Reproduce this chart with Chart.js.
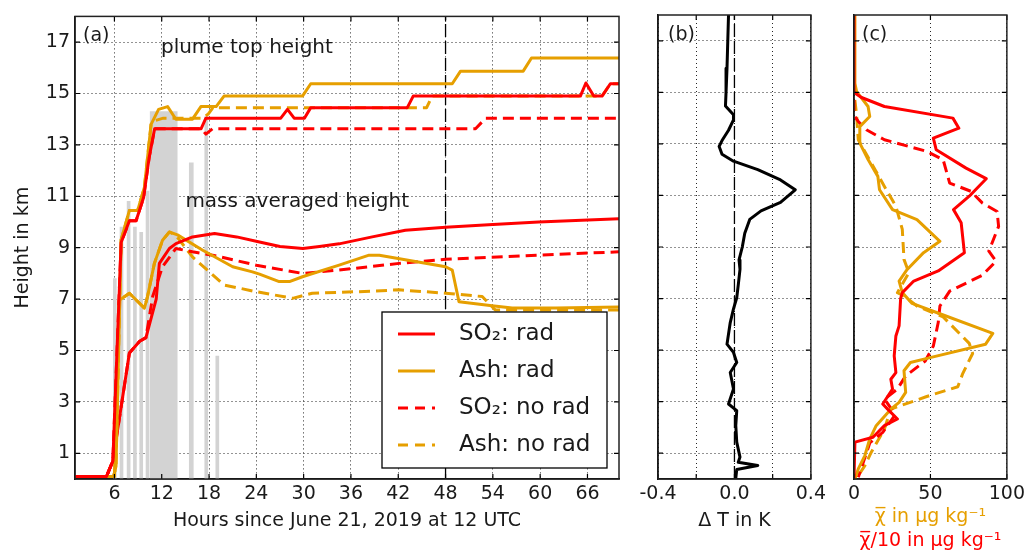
<!DOCTYPE html>
<html><head><meta charset="utf-8">
<script src="https://cdn.jsdelivr.net/npm/chart.js@4.4.1/dist/chart.umd.min.js"></script>
<style>
html,body{margin:0;padding:0;background:#fff;}
#wrap{position:relative;width:1029px;height:552px;overflow:hidden;background:#fff;}
canvas{position:absolute;top:0;}
</style></head><body>
<div id="wrap">
<canvas id="ca" width="630" height="552" style="left:0px"></canvas>
<canvas id="cb" width="200" height="552" style="left:630px"></canvas>
<canvas id="cc" width="199" height="552" style="left:830px"></canvas>
</div>
<script>
// ---------- tick values / labels ----------
const hourTicks = [6,12,18,24,30,36,42,48,54,60,66];
const heightTicks = [1,3,5,7,9,11,13,15,17];
const dTTicks = [-0.4,-0.2,0,0.2,0.4];
const dTTickLabels = ['-0.4','','0.0','','0.4'];
const mixTicks = [0,50,100];
const mixTickLabels = ['0','50','100'];
const hourRange = [1,70];
const heightRange = [0,18];
const refHour = [48];
const refDT = [0];
const legendLabels = ['SO\u2082: rad','Ash: rad','SO\u2082: no rad','Ash: no rad'];

// ---------- panel (a): [hour, km] ----------
const so2RadTop = [[1,0.1],[5.0,0.1],[5.8,0.7],[6.85,9.2],[7.9,10.05],[8.75,10.05],[9.7,10.95],[10.4,12.5],[11.1,13.63],[17.0,13.63],[17.6,14.04],[27.1,14.04],[27.95,14.38],[28.8,14.04],[30.1,14.04],[30.9,14.45],[43.15,14.45],[43.9,14.9],[65.1,14.9],[65.8,15.41],[66.8,14.9],[67.85,14.9],[68.9,15.38],[70,15.38]];
const so2NoRadTop = [[1,0.1],[5.0,0.1],[5.8,0.7],[6.85,9.2],[7.9,10.05],[8.75,10.05],[9.7,10.95],[10.4,12.5],[11.1,13.63],[17.0,13.63],[17.6,13.42],[18.45,13.63],[51.8,13.63],[53.1,14.04],[70,14.04]];
const ashRadTop = [[1,0.1],[5.9,0.1],[6.2,0.5],[6.85,9.3],[7.9,10.45],[8.95,10.45],[9.8,11.35],[10.65,13.8],[11.6,14.38],[12.75,14.49],[13.8,14.0],[15.9,14.0],[16.97,14.49],[18.9,14.49],[19.9,14.9],[29.85,14.9],[30.9,15.38],[48.85,15.38],[49.9,15.87],[57.85,15.87],[58.9,16.38],[70,16.38]];
const ashNoRadTop = [[1,0.1],[5.9,0.1],[6.2,0.5],[6.85,9.3],[7.9,10.45],[8.95,10.45],[9.8,11.35],[10.65,13.8],[11.2,13.95],[12.2,14.04],[17.2,14.04],[17.9,14.2],[18.5,14.45],[45.6,14.45],[46.3,14.9],[67.85,14.9],[68.9,15.38],[70,15.38]];
const so2RadMass = [[1,0.1],[5.0,0.1],[5.8,0.7],[7.9,4.9],[9.2,5.36],[10.0,5.5],[11.3,7.0],[11.7,8.39],[12.97,8.97],[13.8,9.16],[15.9,9.42],[18.7,9.55],[21.5,9.42],[24.4,9.22],[27,9.05],[29.9,8.97],[32,9.05],[34.5,9.15],[38.7,9.42],[42.9,9.68],[48,9.8],[54,9.9],[59.8,10.0],[70,10.13]];
const so2NoRadMass = [[1,0.1],[5.0,0.1],[5.8,0.7],[7.9,4.9],[9.2,5.36],[10.0,5.5],[10.85,7.1],[12.1,8.26],[13.8,8.97],[15.9,8.84],[18.45,8.71],[24,8.32],[29.85,8.0],[34.5,8.13],[42.1,8.39],[48,8.55],[59.8,8.71],[70,8.84]];
const ashRadMass = [[1,0.1],[6.0,0.1],[6.6,6.95],[7.9,7.23],[9.8,6.65],[10.2,7.1],[11.07,8.39],[12.1,9.29],[12.97,9.61],[14.0,9.5],[17.2,8.9],[21.0,8.26],[23.5,8.06],[24.4,7.97],[26.9,7.68],[28.2,7.68],[29.85,7.87],[34.5,8.32],[38.3,8.71],[39.6,8.71],[48.0,8.26],[48.85,8.13],[49.7,6.9],[53.9,6.74],[56.45,6.65],[62,6.65],[70,6.69]];
const ashNoRadMass = [[1,0.1],[6.0,0.1],[6.6,6.95],[7.9,7.23],[9.8,6.65],[10.2,7.1],[11.07,8.39],[12.1,9.29],[12.97,9.61],[13.8,9.48],[15.9,8.64],[17.8,8.13],[19.9,7.55],[23.95,7.29],[28.6,7.03],[31.1,7.23],[37,7.29],[42.1,7.36],[48,7.23],[52.65,7.1],[54.3,6.58],[70,6.58]];
// observed heights (gray bars): [hour, km]
const obsThin = [[6.05,7.8],[6.9,9.8],[7.8,10.8],[8.6,9.8],[9.4,9.6],[10.2,11.2],[17.65,14.1],[19.05,4.78]];
const obsMid = [[15.75,12.3]];
const obsWide = [[12.25,14.3]];

// ---------- panel (b): [dT K, km] ----------
const dTProfile = [[-0.031,18.0],[-0.039,15.93],[-0.044,15.0],[-0.047,14.47],[-0.005,14.13],[-0.005,13.93],[-0.031,13.53],[-0.065,13.13],[-0.08,12.9],[-0.065,12.6],[-0.005,12.33],[0.122,12.0],[0.241,11.6],[0.318,11.22],[0.241,10.73],[0.139,10.4],[0.08,10.07],[0.054,9.53],[0.041,9.0],[0.024,8.5],[0.029,8.13],[0.02,7.53],[0.012,7.03],[-0.005,6.6],[-0.022,6.07],[-0.039,5.23],[-0.005,4.91],[0.012,4.52],[-0.022,4.13],[-0.005,3.49],[-0.031,2.91],[0.012,2.65],[0.007,2.07],[0.012,1.43],[0.029,0.85],[0.02,0.65],[0.122,0.52],[0.012,0.37],[0.007,0.03]];

// ---------- panel (c): [mixing ratio, km] ----------
const so2RadMix = [[0,18],[0,15.0],[4.9,14.8],[19.9,14.45],[64.7,14.0],[68.6,13.61],[51.9,13.22],[53.8,12.77],[73.3,12.06],[86.5,11.65],[75.4,10.97],[65.1,10.45],[70.1,9.94],[72.2,8.78],[55.1,8.07],[39.1,7.68],[31.6,7.23],[30.5,7.0],[29.5,5.94],[27.4,5.55],[26.3,4.78],[27.4,4.13],[24.1,3.87],[25.2,3.49],[18.8,2.91],[22.0,2.71],[28.4,2.33],[19.9,2.07],[12.4,1.62],[0.6,1.43],[0,1.3],[0,0]];
const so2NoRadMix = [[0,18],[0,14.2],[0.6,14.06],[2.8,13.87],[8.1,13.55],[19.9,13.16],[47.6,12.71],[58.3,12.39],[62.6,11.48],[76.5,11.16],[83.9,10.71],[93.6,10.38],[94.6,9.8],[88.2,8.84],[92.9,8.45],[83.9,7.9],[62.6,7.29],[56.2,6.71],[55.1,6.07],[51.9,5.16],[46.6,4.58],[33.8,4.0],[28.4,3.49],[20.0,3.1],[27.0,2.5],[18.8,1.81],[10.3,1.4],[8.1,1.0],[2.8,0.07]];
const ashRadMix = [[0,18],[0.6,15.35],[1.7,15.03],[9.2,14.45],[10.3,14.06],[3.8,13.67],[3.8,13.03],[9.2,12.39],[15.6,11.74],[16.7,11.22],[25.2,10.45],[41.2,10.06],[56.2,9.22],[45.5,8.78],[34.8,8.13],[29.5,7.68],[31.6,7.23],[38.0,6.81],[54.0,6.46],[90.8,5.65],[86.1,5.23],[49.8,4.71],[36.9,4.52],[32.7,4.2],[33.8,3.36],[29.5,2.97],[24.1,2.71],[14.5,2.07],[10.3,1.55],[7.1,0.91],[2.8,0.39],[0.6,0]];
const ashNoRadMix = [[0,18],[0,15.0],[1.7,14.12],[2.8,13.16],[19.9,11.35],[27.4,10.58],[31.6,9.68],[32.7,8.52],[35.9,8.0],[28.4,7.23],[32.7,7.1],[41.2,6.71],[58.3,6.29],[75.4,5.26],[77.6,4.87],[71.2,4.1],[67.9,3.58],[47.6,3.2],[24.1,2.71],[19.9,1.94],[11.3,1.04],[7.1,0.52],[2.8,0.13]];

// ---------- styling ----------
const RED = '#ff0000', ORANGE = '#e69f00', GRAY = 'rgb(211,211,211)', INK = '#1a1a1a';
const FONT = 'DejaVu Sans';
const DASH = [11,6];
Chart.defaults.font.family = FONT;
Chart.defaults.color = INK;
Chart.defaults.animation = false;

const pts = arr => arr.map(p => ({x: p[0], y: p[1]}));
function line(label, arr, color, dashed, width){
  return {type:'line', label, data: pts(arr), borderColor: color, backgroundColor: color,
    borderWidth: width || 3, borderDash: dashed ? DASH : [], pointRadius: 0, pointHoverRadius: 0,
    fill: false, tension: 0, order: 1, borderJoinStyle: 'round', borderCapStyle: 'butt'};
}
function vline(val, range, dash){
  return {type:'line', data: [{x: val, y: range[0]}, {x: val, y: range[1]}], borderColor: '#000',
    borderWidth: 1.3, borderDash: dash, pointRadius: 0, fill: false, order: 2};
}
function setTicks(vals){ return s => { s.ticks = vals.map(v => ({value: v})); }; }
const gridOpts = {color: 'rgba(0,0,0,0.85)', lineWidth: 1, drawTicks: false, offset: false};
const borderOpts = {display: true, color: '#000', width: 1.5, dash: [1,3]};

function overlay(o){
  return {id: 'overlay', afterDraw(chart){
    const ctx = chart.ctx, a = chart.chartArea, xs = chart.scales.x, ys = chart.scales.y;
    ctx.save();
    ctx.setLineDash([]);
    ctx.strokeStyle = '#000';
    ctx.lineWidth = 1.2;
    const L = 5;
    ctx.beginPath();
    xs.ticks.forEach(t => { const p = xs.getPixelForValue(t.value);
      ctx.moveTo(p, a.top); ctx.lineTo(p, a.top + L); ctx.moveTo(p, a.bottom); ctx.lineTo(p, a.bottom - L); });
    ys.ticks.forEach(t => { const p = ys.getPixelForValue(t.value);
      ctx.moveTo(a.left, p); ctx.lineTo(a.left + L, p); ctx.moveTo(a.right, p); ctx.lineTo(a.right - L, p); });
    ctx.stroke();
    ctx.lineWidth = 1.5;
    ctx.strokeStyle = '#222';
    ctx.strokeRect(a.left, a.top, a.right - a.left, a.bottom - a.top);
    // annotations
    ctx.fillStyle = INK;
    ctx.textAlign = 'left';
    ctx.textBaseline = 'middle';
    (o.texts || []).forEach(t => {
      ctx.font = t.size + 'px "' + FONT + '"';
      const x = t.dx != null ? a.left + t.dx : xs.getPixelForValue(t.x);
      const y = t.dy != null ? a.top + t.dy : ys.getPixelForValue(t.y);
      ctx.fillText(t.text, x, y);
    });
    // legend
    if (o.legend){
      const W = 225, H = 156;
      const bx = a.right - 12 - W, by = a.bottom - 11 - H;
      ctx.fillStyle = '#fff';
      ctx.fillRect(bx, by, W, H);
      ctx.strokeStyle = '#000';
      ctx.lineWidth = 1.3;
      ctx.strokeRect(bx, by, W, H);
      const items = chart.data.datasets.filter(d => legendLabels.includes(d.label))
        .sort((p, q) => legendLabels.indexOf(p.label) - legendLabels.indexOf(q.label));
      items.forEach((d, i) => {
        const cy = by + 22 + i * 37;
        ctx.strokeStyle = d.borderColor;
        ctx.lineWidth = 3;
        ctx.setLineDash(d.borderDash && d.borderDash.length ? [10,7] : []);
        ctx.beginPath(); ctx.moveTo(bx + 16, cy); ctx.lineTo(bx + 53, cy); ctx.stroke();
        ctx.setLineDash([]);
        ctx.fillStyle = INK;
        ctx.font = '23px "' + FONT + '"';
        ctx.fillText(d.label, bx + 77, cy);
      });
    }
    ctx.restore();
  }};
}

// ---------- chart (a) ----------
new Chart(document.getElementById('ca'), {
  type: 'line',
  data: {datasets: [
    line(legendLabels[0], so2RadTop, RED, false),
    line(legendLabels[1], ashRadTop, ORANGE, false),
    line(legendLabels[2], so2NoRadTop, RED, true),
    line(legendLabels[3], ashNoRadTop, ORANGE, true),
    line('so2RadMass', so2RadMass, RED, false),
    line('ashRadMass', ashRadMass, ORANGE, false),
    line('so2NoRadMass', so2NoRadMass, RED, true),
    line('ashNoRadMass', ashNoRadMass, ORANGE, true),
    vline(refHour[0], heightRange, [13,4]),
    {type: 'bar', data: pts(obsThin), backgroundColor: GRAY, borderWidth: 0, barThickness: 3, grouped: false, order: 10},
    {type: 'bar', data: pts(obsMid), backgroundColor: GRAY, borderWidth: 0, barThickness: 4, grouped: false, order: 10},
    {type: 'bar', data: pts(obsWide), backgroundColor: GRAY, borderWidth: 0, barThickness: 27, grouped: false, order: 10}
  ]},
  options: {
    responsive: false, animation: false, events: [],
    layout: {padding: {left: 0, top: 15, right: 11, bottom: 0}},
    plugins: {legend: {display: false}, tooltip: {enabled: false}},
    scales: {
      x: {type: 'linear', min: hourRange[0], max: hourRange[1], offset: false,
        afterBuildTicks: setTicks(hourTicks), afterFit: s => { s.height = 73; },
        ticks: {font: {size: 19}, color: INK, padding: 4, autoSkip: false, maxRotation: 0, callback: v => String(v)},
        grid: gridOpts, border: borderOpts,
        title: {display: true, text: 'Hours since June 21, 2019 at 12 UTC', font: {size: 19}, color: INK, padding: {top: 0, bottom: 20}}},
      y: {type: 'linear', min: heightRange[0], max: heightRange[1],
        afterBuildTicks: setTicks(heightTicks), afterFit: s => { s.width = 75; },
        ticks: {font: {size: 19}, color: INK, padding: 5, autoSkip: false, callback: v => String(v)},
        grid: gridOpts, border: borderOpts,
        title: {display: true, text: 'Height in km', font: {size: 19}, color: INK, padding: {top: 12, bottom: 0}}}
    }
  },
  plugins: [overlay({legend: true, texts: [
    {text: '(a)', size: 19, dx: 8, dy: 20},
    {text: 'plume top height', size: 20, x: 11.9, y: 16.77},
    {text: 'mass averaged height', size: 20, x: 15.0, y: 10.77}
  ]})]
});

// ---------- chart (b) ----------
new Chart(document.getElementById('cb'), {
  type: 'line',
  data: {datasets: [
    line('dT', dTProfile, '#000', false, 3),
    vline(refDT[0], heightRange, [13,4])
  ]},
  options: {
    responsive: false, animation: false, events: [],
    layout: {padding: {left: 28, top: 15, right: 15, bottom: 0}},
    plugins: {legend: {display: false}, tooltip: {enabled: false}},
    scales: {
      x: {type: 'linear', min: dTTicks[0], max: dTTicks[dTTicks.length - 1], offset: false,
        afterBuildTicks: setTicks(dTTicks), afterFit: s => { s.height = 73; },
        ticks: {font: {size: 19}, color: INK, padding: 4, autoSkip: false, maxRotation: 0, callback: (v, i) => dTTickLabels[i]},
        grid: gridOpts, border: borderOpts,
        title: {display: true, text: '\u0394 T in K', font: {size: 19}, color: INK, padding: {top: 0, bottom: 20}}},
      y: {type: 'linear', min: heightRange[0], max: heightRange[1],
        afterBuildTicks: setTicks(heightTicks), afterFit: s => { s.width = 0; },
        ticks: {display: false}, grid: gridOpts, border: borderOpts}
    }
  },
  plugins: [overlay({texts: [{text: '(b)', size: 19, dx: 10, dy: 20}]})]
});

// ---------- chart (c) ----------
new Chart(document.getElementById('cc'), {
  type: 'line',
  data: {datasets: [
    line('so2RadMix', so2RadMix, RED, false),
    line('ashRadMix', ashRadMix, ORANGE, false),
    line('so2NoRadMix', so2NoRadMix, RED, true),
    line('ashNoRadMix', ashNoRadMix, ORANGE, true)
  ]},
  options: {
    responsive: false, animation: false, events: [],
    layout: {padding: {left: 24, top: 15, right: 19, bottom: 0}},
    plugins: {legend: {display: false}, tooltip: {enabled: false}},
    scales: {
      x: {type: 'linear', min: mixTicks[0], max: mixTicks[mixTicks.length - 1], offset: false, weight: 0,
        afterBuildTicks: setTicks(mixTicks), afterFit: s => { s.height = 49; },
        ticks: {font: {size: 19}, color: INK, padding: 4, autoSkip: false, maxRotation: 0, callback: (v, i) => mixTickLabels[i]},
        grid: gridOpts, border: borderOpts,
        title: {display: true, text: '\u03C7\u0305 in \u00B5g kg\u207B\u00B9', font: {size: 19}, color: ORANGE, padding: {top: 0, bottom: 0}}},
      x2: {type: 'linear', position: 'bottom', min: 0, max: 100, weight: 1,
        afterFit: s => { s.height = 24; },
        ticks: {display: false}, grid: {display: false, drawTicks: false}, border: {display: false},
        title: {display: true, text: '\u03C7\u0305/10 in \u00B5g kg\u207B\u00B9', font: {size: 19}, color: RED, padding: {top: 0, bottom: 0}}},
      y: {type: 'linear', min: heightRange[0], max: heightRange[1],
        afterBuildTicks: setTicks(heightTicks), afterFit: s => { s.width = 0; },
        ticks: {display: false}, grid: gridOpts, border: borderOpts}
    }
  },
  plugins: [overlay({texts: [{text: '(c)', size: 19, dx: 8, dy: 20}]})]
});
</script>
</body></html>
